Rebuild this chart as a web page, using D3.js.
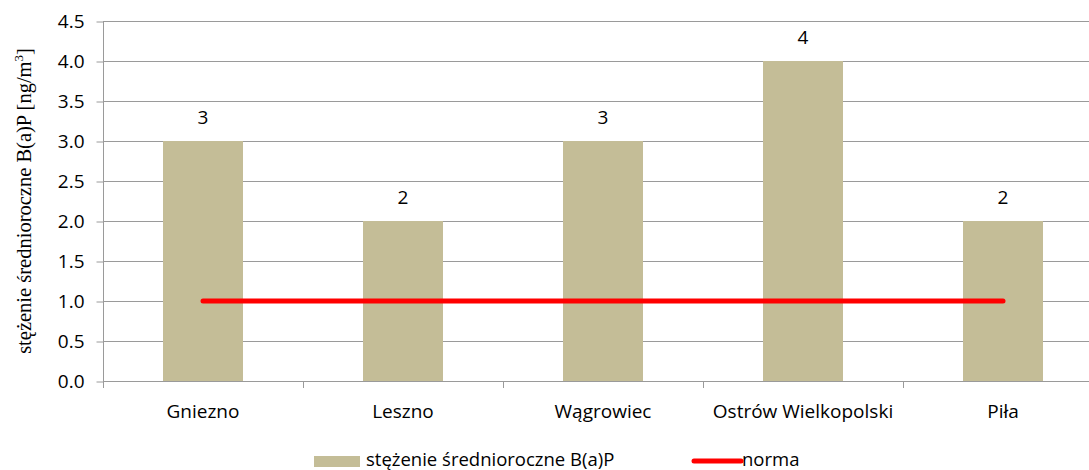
<!DOCTYPE html>
<html>
<head>
	<title>B(a)P</title>
	<script src="https://d3js.org/d3.v7.min.js"></script>
	<style>
		body{margin:0;background:#fff;}
		text{font-family:'Open Sans','Noto Sans',sans-serif;fill:#000;}
		.tick text{font-size:19px;}
	</style>
</head>
<body>
	<div class="chart"></div>
	<script>
		const cities = ['Gniezno','Leszno','Wągrowiec','Ostrów Wielkopolski','Piła'];
		const values = [3,2,3,4,2];
		const norma = [1,1,1,1,1];
		const yTicks = [0,0.5,1,1.5,2,2.5,3,3.5,4,4.5];

		const W = 1089, H = 470;
		const mLeft = 103, mTop = 21, plotH = 360;

		const svg = d3.select('.chart').append('svg').attr('width',W).attr('height',H)

		let y = d3.scaleLinear().domain([0,4.5]).range([mTop+plotH, mTop])
		let x = d3.scaleBand().domain(cities).range([mLeft, mLeft+1000]).paddingInner(0.6).paddingOuter(0.3)

		// gridlines
		svg.selectAll('.grid').data(yTicks).enter().append('line')
			.attr('x1',mLeft).attr('x2',W)
			.attr('y1',d=>y(d)+0.5).attr('y2',d=>y(d)+0.5)
			.attr('stroke','#9a9a9a').attr('stroke-width',1)

		var y_axis = d3.axisLeft(y).tickValues(yTicks).tickFormat(d3.format('.1f')).tickSize(7).tickPadding(12)
		const ya = svg.append('g').attr('transform',`translate(${mLeft+0.5},0.5)`).call(y_axis)
		ya.select('.domain').attr('stroke','#9a9a9a').attr('d',`M0,${mTop}V${mTop+plotH}`)
		ya.selectAll('.tick line').attr('stroke','#9a9a9a')

		// category ticks at band edges
		const edges = cities.map(c=>x(c)-x.step()*0.3)
		svg.selectAll('.xt').data(edges).enter().append('line')
			.attr('x1',d=>Math.round(d)+0.5).attr('x2',d=>Math.round(d)+0.5)
			.attr('y1',mTop+plotH).attr('y2',mTop+plotH+7)
			.attr('stroke','#9a9a9a')

		svg.selectAll('.bar').data(values).enter().append('rect')
			.attr('x',(d,i)=>x(cities[i])).attr('width',x.bandwidth())
			.attr('y',d=>y(d)).attr('height',d=>y(0)-y(d))
			.attr('fill','#C4BD97')

		svg.selectAll('.val').data(values).enter().append('text')
			.attr('x',(d,i)=>x(cities[i])+x.bandwidth()/2)
			.attr('y',d=>y(d)-17).attr('text-anchor','middle')
			.style('font-size','19px').text(d=>d)

		svg.selectAll('.cat').data(cities).enter().append('text')
			.attr('x',d=>x(d)+x.bandwidth()/2).attr('y',418)
			.attr('text-anchor','middle').style('font-size','19px').text(d=>d)

		const line = d3.line().x((d,i)=>x(cities[i])+x.bandwidth()/2).y(d=>y(d))
		svg.append('path').datum(norma).attr('d',line)
			.attr('fill','none').attr('stroke','#FF0000').attr('stroke-width',5).attr('stroke-linecap','round')

		// y title
		const yt = svg.append('text')
			.attr('transform',`translate(31,${mTop+plotH/2}) rotate(-90)`)
			.attr('text-anchor','middle')
			.style('font-family',"'Liberation Serif','DejaVu Serif',serif").style('font-size','20.5px')
		yt.append('tspan').text('stężenie średnioroczne B(a)P [ng/m')
		yt.append('tspan').attr('dy',-8).style('font-size','13px').text('3')
		yt.append('tspan').attr('dy',8).text(']')

		// legend
		const lg = svg.append('g')
		lg.append('rect').attr('x',314).attr('y',456).attr('width',46).attr('height',11).attr('fill','#C4BD97')
		lg.append('text').attr('x',366).attr('y',466).style('font-size','18.5px').text('stężenie średnioroczne B(a)P')
		lg.append('line').attr('x1',694).attr('x2',741).attr('y1',461).attr('y2',461)
			.attr('stroke','#FF0000').attr('stroke-width',5).attr('stroke-linecap','round')
		lg.append('text').attr('x',742).attr('y',466).style('font-size','18.5px').text('norma')
	</script>
</body>
</html>
